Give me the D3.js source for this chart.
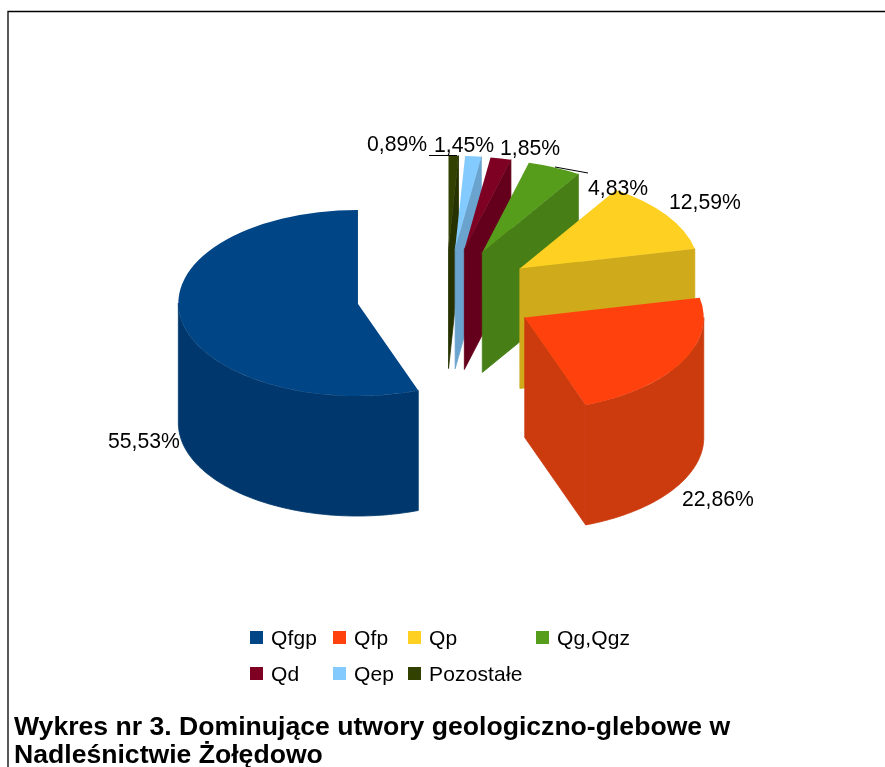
<!DOCTYPE html>
<html><head><meta charset="utf-8">
<script src="https://cdnjs.cloudflare.com/ajax/libs/d3/7.8.5/d3.min.js"></script>
<style>html,body{margin:0;padding:0;background:#fff;overflow:hidden}svg{display:block}text{font-family:"Liberation Sans",Arial,sans-serif;fill:#000}</style>
</head><body><svg id="c" width="885" height="767"></svg>
<script>
const categories = ["Qfgp","Qfp","Qp","Qg,Qgz","Qd","Qep","Pozostałe"];
const values = [55.53,22.86,12.59,4.83,1.85,1.45,0.89];
const topColors = ["#004586","#ff420e","#fdd020","#579d1c","#7e0021","#83caff","#314004"];
const wallColors = ["#03396d","#cc3a0c","#cfab1c","#467f16","#65001a","#6ba3ce","#273303"];
const titleLines = ["Wykres nr 3. Dominujące utwory geologiczno-glebowe w","Nadleśnictwie Żołędowo"];

const W=885,H=767,cx=446,cy=295,rx=179,ry=93,depth=120,explode=0.5;
const svg=d3.select("#c");
const defs=svg.append("defs");
defs.append("filter").attr("id","soft").attr("x","-5%").attr("y","-5%").attr("width","110%").attr("height","110%")
  .append("feGaussianBlur").attr("stdDeviation",0.45);
defs.append("filter").attr("id","softText").attr("filterUnits","userSpaceOnUse").attr("x",0).attr("y",0).attr("width",W).attr("height",H)
  .append("feGaussianBlur").attr("stdDeviation",0.3);
const fmt=v=>d3.format(".2f")(v).replace(".",",")+"%";

svg.append("path").attr("d",`M8,${H}V11.5H${W}`).attr("fill","none").attr("stroke","#000").attr("stroke-width",1.3);

const pie=d3.pie().sort(null).startAngle(0).endAngle(-2*Math.PI).value(d=>d);
const arcs=pie(values).map((d,i)=>{
  const mid=(d.startAngle+d.endAngle)/2;
  return {...d,i,ox:cx+explode*180*Math.sin(mid),oy:cy-explode*ry*Math.cos(mid)};
});
const topArc=d3.arc().innerRadius(0).outerRadius(rx);
const line=d3.line();
const pt=(s,a,z=0)=>[s.ox+rx*Math.sin(a),s.oy-ry*Math.cos(a)+z];
const arcPts=(s,a0,a1,z=0,n=80)=>d3.range(n+1).map(k=>pt(s,a0+(a1-a0)*k/n,z));

const pieG=svg.append("g").attr("filter","url(#soft)");
[...arcs].reverse().forEach(s=>{
  const g=pieG.append("g");
  const wall=d=>g.append("path").attr("fill",wallColors[s.i]).attr("stroke",wallColors[s.i]).attr("stroke-width",0.8).attr("d",d);
  // inner wall along the leading radius
  const p=pt(s,s.startAngle);
  wall(line([[s.ox,s.oy],p,[p[0],p[1]+depth],[s.ox,s.oy+depth]])+"Z");
  // outer curved wall: angles run counter-clockwise, front half is cos(angle)<0
  const lo=Math.max(s.endAngle,-1.5*Math.PI), hi=Math.min(s.startAngle,-0.5*Math.PI);
  if(hi>lo) wall(line(arcPts(s,hi,lo).concat(arcPts(s,lo,hi,depth)))+"Z");
  // top face
  g.append("path").attr("fill",topColors[s.i])
    .attr("transform",`translate(${s.ox},${s.oy}) scale(1,${ry/rx})`)
    .attr("d",topArc({startAngle:s.startAngle,endAngle:s.endAngle}));
});

// leader lines
const leaders=[[[429,155.5],[457,155.5]],[[555,167],[588,173]]];
svg.selectAll("path.leader").data(leaders).join("path").attr("class","leader")
  .attr("d",d=>line(d)).attr("stroke","#000").attr("stroke-width",1).attr("fill","none");

const textG=svg.append("g").attr("filter","url(#softText)");
// value labels
const labelPos=[[108,448],[682,506],[669,209],[588,195],[500,155],[434,152],[367,151]];
textG.selectAll("text.val").data(values).join("text").attr("class","val")
  .attr("x",(d,i)=>labelPos[i][0]).attr("y",(d,i)=>labelPos[i][1])
  .attr("font-size",21.2).text(fmt);

// legend
const colX=[250,333,408,536], rowY=[631,667];
const lg=textG.selectAll("g.lg").data(categories).join("g").attr("class","lg")
  .attr("transform",(d,i)=>`translate(${i<4?colX[i]:colX[i-4]},${i<4?rowY[0]:rowY[1]})`);
lg.append("rect").attr("width",13).attr("height",13).attr("fill",(d,i)=>topColors[i]);
lg.append("text").attr("x",21).attr("y",13.5).attr("font-size",21).attr("letter-spacing",0.15).text(d=>d);

// title
textG.selectAll("text.title").data(titleLines).join("text").attr("class","title")
  .attr("x",14).attr("y",(d,i)=>734.5+i*28).attr("font-size",26.6).attr("font-weight","bold").text(d=>d);
</script></body></html>
